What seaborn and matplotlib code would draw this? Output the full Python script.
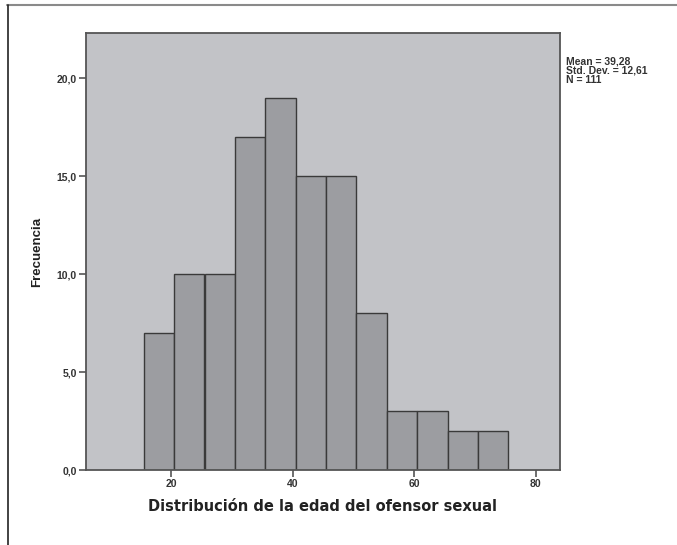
import numpy as np
import matplotlib
matplotlib.use("Agg")
import matplotlib.pyplot as plt
import seaborn as sns
from matplotlib.lines import Line2D

# Data
bin_edges = [15.5, 20.5, 25.5, 30.5, 35.5, 40.5, 45.5, 50.5, 55.5, 60.5, 65.5, 70.5, 75.5]
counts = [7, 10, 10, 17, 19, 15, 15, 8, 3, 3, 2, 2]
x_ticks = [20, 40, 60, 80]
y_ticks = [0, 5, 10, 15, 20]
y_tick_labels = ["0,0", "5,0", "10,0", "15,0", "20,0"]
stats_lines = ["Mean = 39,28", "Std. Dev. = 12,61", "N = 111"]

sns.set_style("white")
plt.rcParams['font.family'] = ['Liberation Sans', 'DejaVu Sans']

fig = plt.figure(figsize=(6.77, 5.45), dpi=100)
ax = fig.add_axes([86/677, 75/545, (560-86)/677, (470-33)/545])
ax.set_facecolor("#c2c3c7")

centers = [(bin_edges[i] + bin_edges[i+1]) / 2 for i in range(len(counts))]
sns.histplot(x=centers, weights=counts, bins=bin_edges, ax=ax,
             color="#9c9da1", alpha=1, edgecolor="#3a3a3a", linewidth=1.0)

ax.set_xlim(6, 84)
ax.set_ylim(0, 22.3)
ax.set_xticks(x_ticks)
ax.set_xticklabels([str(t) for t in x_ticks])
ax.set_yticks(y_ticks)
ax.set_yticklabels(y_tick_labels)
ax.tick_params(axis='both', direction='out', length=5, width=1.2, color="#555555",
               labelsize=7.5, labelcolor="#333333", pad=1.5)
ax.tick_params(axis='x', bottom=True, left=False)
ax.tick_params(axis='y', left=True)
for lbl in ax.get_xticklabels() + ax.get_yticklabels():
    lbl.set_fontweight('bold')
for s in ax.spines.values():
    s.set_color("#555555")
    s.set_linewidth(1.3)

ax.set_xlabel("Distribución de la edad del ofensor sexual", fontsize=10.5,
              fontweight='bold', color="#222222", labelpad=7, family=['DejaVu Sans'])
ax.set_ylabel("Frecuencia", fontsize=9.5, fontweight='bold', color="#222222", labelpad=10)

fig.text(566/677, 1 - 56/545, "\n".join(stats_lines), fontsize=7.5, color="#333333",
         va='top', ha='left', linespacing=0.95, fontweight='bold')

# outer frame: top (grey) and left (dark) lines only
fig.add_artist(Line2D([7/677, 1.0], [1 - 5/545, 1 - 5/545], transform=fig.transFigure,
                      color="#8a8a8a", linewidth=1.5))
fig.add_artist(Line2D([7.5/677, 7.5/677], [0, 1 - 5/545], transform=fig.transFigure,
                      color="#222222", linewidth=1.2))

fig.savefig("out.png", dpi=100)
